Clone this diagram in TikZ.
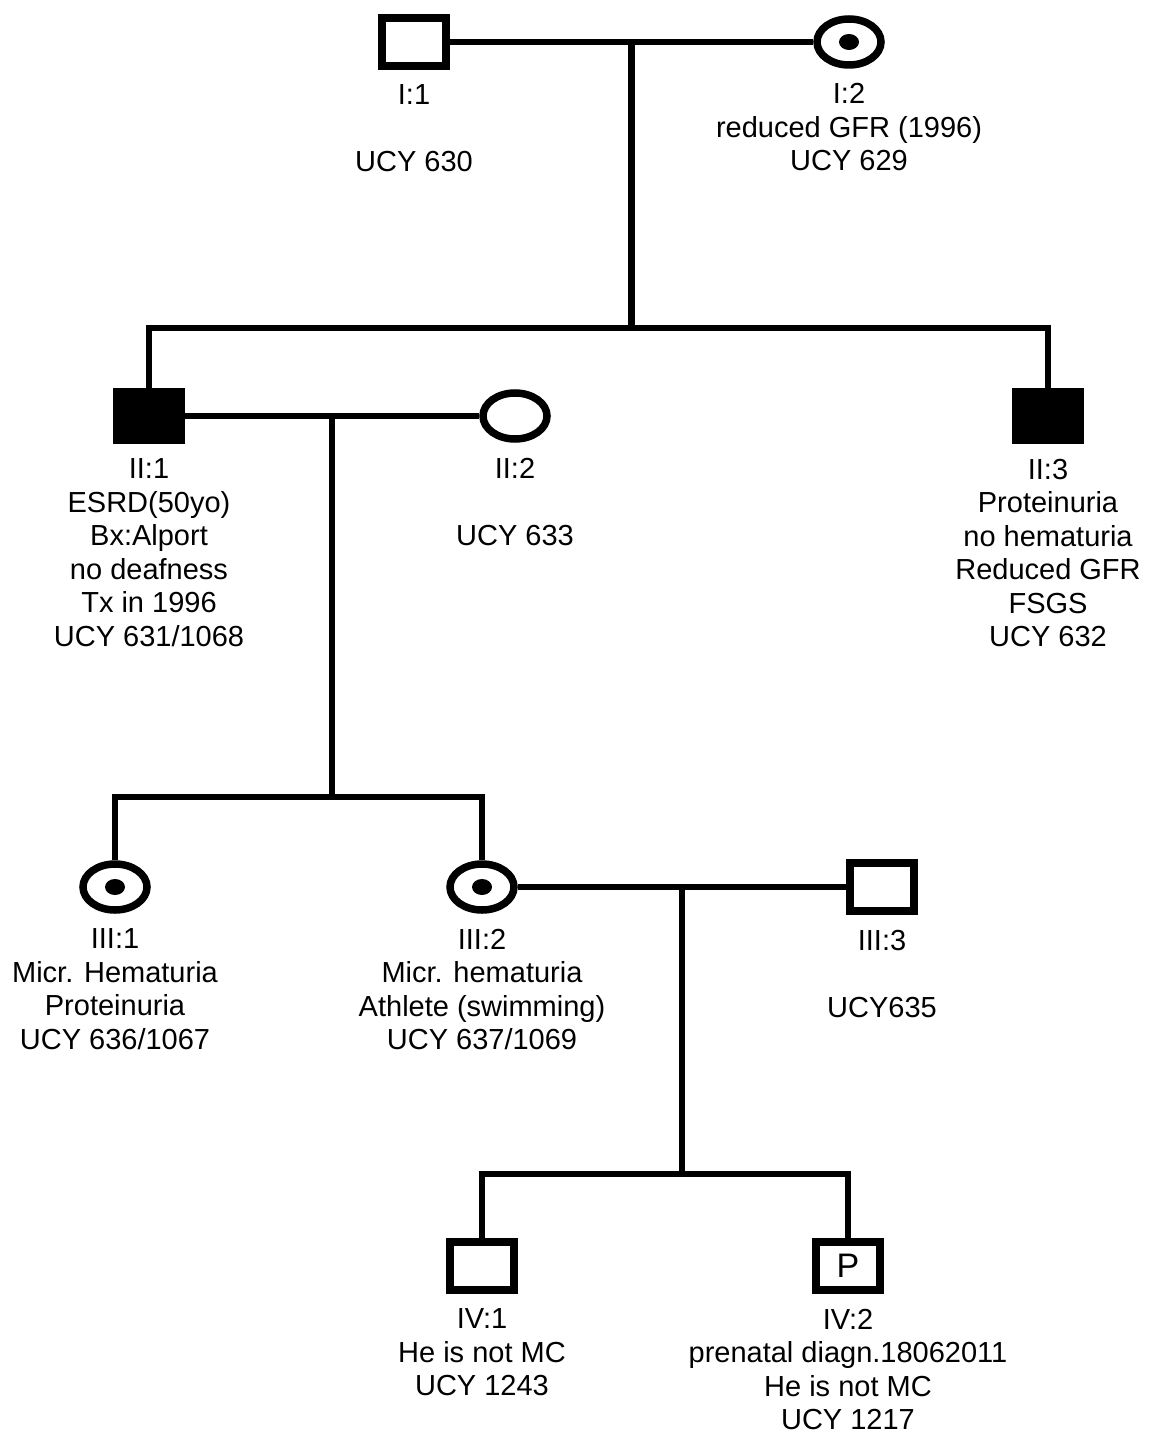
\documentclass[tikz,border=0pt]{standalone}
\usepackage{fontspec}
\setmainfont{Liberation Sans}
\usetikzlibrary{positioning,calc,shapes.geometric}

\begin{document}
\begin{tikzpicture}[
  x=1pt, y=-1pt,
  male/.style={draw, rectangle, line width=8pt, minimum width=64pt,
    minimum height=48pt, inner sep=0pt, fill=white,
    font=\fontsize{34}{34}\selectfont},
  female/.style={draw, ellipse, line width=7.5pt, minimum width=64pt,
    minimum height=46pt, inner sep=0pt, fill=white},
  affected/.style={fill=black},
  carrier/.style={path picture={
    \fill[black] (path picture bounding box.center) ellipse (10pt and 8pt);}},
  info/.style={align=center, inner sep=0pt, outer sep=0pt,
    font=\fontsize{29}{33.5}\selectfont, execute at begin node=\strut},
  link/.style={line width=6.5pt},
]
\fill[white] (0,0) rectangle (1148,1439);
\useasboundingbox (0,0) rectangle (1148,1439);

% generation I
\node[male] (I1) at (414,42) {};
\node[female, carrier] (I2) at (849,42) {};
\node[info, below=15pt of I1] (I1-txt) {I:1\\~\\UCY 630};
\node[info, below=15pt of I2] (I2-txt) {I:2\\reduced GFR (1996)\\UCY 629};

% generation II
\node[male, affected] (II1) at (149,416) {};
\node[female] (II2) at (515,416) {};
\node[male, affected] (II3) at (1048,416) {};
\node[info, below=15pt of II1] (II1-txt) {II:1\\ESRD(50yo)\\Bx:Alport\\no deafness\\Tx in 1996\\UCY 631/1068};
\node[info, below=15pt of II2] (II2-txt) {II:2\\~\\UCY 633};
\node[info, below=15pt of II3] (II3-txt) {II:3\\Proteinuria\\no hematuria\\Reduced GFR\\FSGS\\UCY 632};

% generation III
\node[female, carrier] (III1) at (115,887) {};
\node[female, carrier] (III2) at (482,887) {};
\node[male] (III3) at (882,887) {};
\node[info, below=15pt of III1] (III1-txt) {III:1\\Micr. Hematuria\\Proteinuria\\UCY 636/1067};
\node[info, below=15pt of III2] (III2-txt) {III:2\\Micr. hematuria\\Athlete (swimming)\\UCY 637/1069};
\node[info, below=15pt of III3] (III3-txt) {III:3\\~\\UCY635};

% generation IV
\node[male] (IV1) at (482,1266) {};
\node[male] (IV2) at (848,1266) {P};
\node[info, below=15pt of IV1] (IV1-txt) {IV:1\\He is not MC\\UCY 1243};
\node[info, below=15pt of IV2] (IV2-txt) {IV:2\\prenatal diagn.18062011\\He is not MC\\UCY 1217};

% matings and sibships
\coordinate (I-m) at ($(I1)!0.5!(I2)$);
\coordinate (II-s) at (I-m |- 0,328);
\coordinate (II-m) at ($(II1)!0.5!(II2)$);
\coordinate (III-s) at (II-m |- 0,797);
\coordinate (III-m) at ($(III2)!0.5!(III3)$);
\coordinate (IV-s) at (III-m |- 0,1174);

\draw[link] (I1) -- (I2);
\draw[link] (I-m) -- (II-s);
\draw[link] (II1) |- (II-s) -| (II3);
\draw[link] (II1) -- (II2);
\draw[link] (II-m) -- (III-s);
\draw[link] (III1) |- (III-s) -| (III2);
\draw[link] (III2) -- (III3);
\draw[link] (III-m) -- (IV-s);
\draw[link] (IV1) |- (IV-s) -| (IV2);
\end{tikzpicture}
\end{document}
